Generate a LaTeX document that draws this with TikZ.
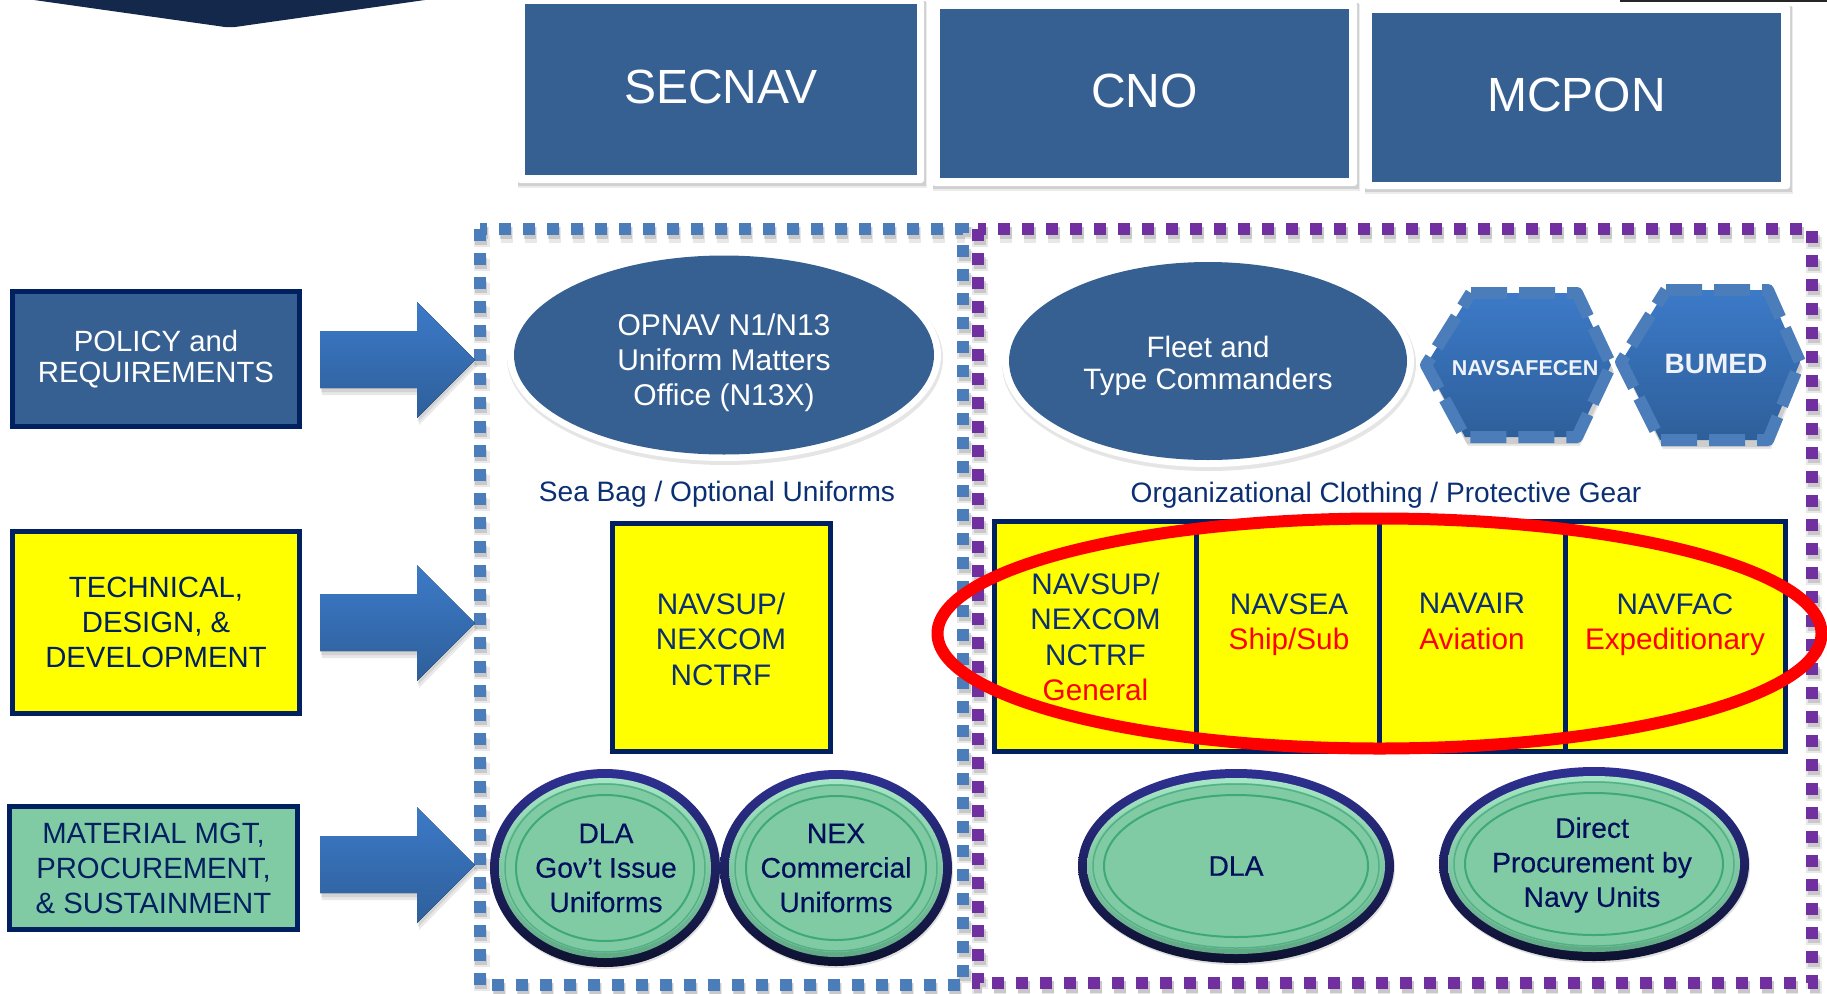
\documentclass[tikz,border=0pt]{standalone}
\usepackage{fontspec}
\setmainfont{Liberation Sans}
\newfontfamily\heavyfont[FakeBold=0.35]{Liberation Sans}
\usetikzlibrary{shapes.geometric}
\definecolor{slate}{HTML}{376092}
\definecolor{navy}{HTML}{002060}
\definecolor{darktop}{HTML}{14284C}
\definecolor{framebl}{HTML}{4A7DBA}
\definecolor{framepu}{HTML}{7030A0}
\definecolor{arrowtop}{HTML}{3C7AC8}
\definecolor{arrowbot}{HTML}{2E5F9A}
\definecolor{mint}{HTML}{80CBA4}
\definecolor{ringg}{HTML}{3FA877}
\definecolor{inktxt}{HTML}{000F5C}
\definecolor{yeltxt}{HTML}{0B2F73}
\definecolor{capcol}{HTML}{0B2F73}
\definecolor{pureyel}{RGB}{255,255,0}
\definecolor{purered}{RGB}{255,0,0}
\definecolor{beveltop}{HTML}{2E3192}
\definecolor{bevelbot}{HTML}{0E1230}
\definecolor{bevellight}{HTML}{A6E6C6}
\definecolor{bevellow}{HTML}{5FA985}
\newcommand{\fsz}[2]{\fontsize{#1}{#2}\selectfont}
\tikzset{
  x=1pt,y=-1pt,
  headbox/.style={rectangle,fill=slate,text=white,inner sep=0pt,font=\fsz{48}{54},align=center},
  sidebox/.style={rectangle,draw=navy,line width=5pt,inner sep=0pt,font=\fsz{29.3}{35},align=center},
  yelbox/.style={rectangle,draw=navy,line width=5pt,fill=pureyel,inner sep=0pt},
  oval/.style={ellipse,fill=slate,text=white,inner sep=0pt,font=\fsz{29.5}{35},align=center},
  yeltext/.style={text=yeltxt,inner sep=0pt,font=\fsz{29.7}{35.5},align=center},
  caption/.style={text=capcol,inner sep=0pt,font=\fsz{28.1}{34}},
  mintext/.style={text=inktxt,inner sep=0pt,font=\heavyfont\fsz{28.3}{34.5},align=center},
  hextext/.style={text=white!92!slate,inner sep=0pt},
  dotted frame/.style={line width=12pt,dash pattern=on 12pt off 12pt},
  hexedge/.style={draw=framebl,line width=12pt,dash pattern=on 36pt off 12pt},
  blockarrow/.style={top color=arrowtop,bottom color=arrowbot,draw=none},
}
\newcommand{\whitebacked}[4]{% x0,y0,x1,y1 white plate
  \fill[gray,opacity=.15] (#1+1,#2+2) rectangle (#3+3,#4+5);
  \fill[gray,opacity=.25] (#1+1,#2+1) rectangle (#3+2,#4+3);
  \fill[white,rounded corners=3pt] (#1,#2) rectangle (#3,#4);
}
\newcommand{\bigarrow}[1]{% centre y
  \fill[gray,opacity=.18] (322,#1-24) -- (419,#1-24) -- (419,#1-53) -- (478,#1+5) -- (419,#1+65) -- (419,#1+35) -- (322,#1+35) -- cycle;
  \fill[gray,opacity=.2] (321,#1-26) -- (418,#1-26) -- (418,#1-55) -- (476,#1+3) -- (418,#1+62) -- (418,#1+32) -- (321,#1+32) -- cycle;
  \fill[blockarrow] (320,#1-29) -- (417,#1-29) -- (417,#1-58) -- (475,#1) -- (417,#1+58) -- (417,#1+28) -- (320,#1+28) -- cycle;
}
\newcommand{\minty}[7]{% name,cx,cy,rx,ry,text,text y
  \fill[gray,opacity=.25] (#2+1,#3+2) ellipse [x radius=#4,y radius=#5];
  \shade[top color=beveltop,bottom color=bevelbot] (#2,#3) ellipse [x radius=#4,y radius=#5];
  \shade[top color=bevellight,bottom color=bevellow] (#2,#3) ellipse [x radius=#4-9,y radius=#5-9];
  \fill[mint] (#2,#3) ellipse [x radius=#4-13,y radius=#5-14];
  \draw[ringg!70!mint,line width=1.5pt] (#2,#3) ellipse [x radius=#4-15,y radius=#5-15];
  \draw[ringg,line width=2pt] (#2,#3) ellipse [x radius=#4-26,y radius=#5-26];
  \node[mintext] (#1) at (#7) {#6};
}
\newcommand{\hexa}[7]{% xl,ym,xa,xb,xr,yt,yb
  \fill[gray,opacity=.18] (#1+3,#2+7) -- (#3+3,#6+7) -- (#4+3,#6+7) -- (#5+3,#2+7) -- (#4+3,#7+9) -- (#3+3,#7+9) -- cycle;
  \fill[gray,opacity=.25] (#1+2,#2+5) -- (#3+2,#6+5) -- (#4+2,#6+5) -- (#5+2,#2+5) -- (#4+2,#7+7) -- (#3+2,#7+7) -- cycle;
  \path[top color=arrowtop,bottom color=arrowbot,hexedge,line join=round]
    (#3+6,#6) -- (#4,#6) -- (#5,#2) -- (#4,#7) -- (#3,#7) -- (#1,#2) -- cycle;
}
\begin{document}
\begin{tikzpicture}
\useasboundingbox (0,0) rectangle (1827,993);
\clip (0,0) rectangle (1827,993);
\fill[white] (0,0) rectangle (1827,993);

% top remnants
\fill[darktop] (34,0) -- (225,27) -- (235,27) -- (425,0) -- cycle;
\fill[black!85] (1620,0) rectangle (1827,2);

% head boxes
\whitebacked{517}{0}{924}{183}
\node[headbox,minimum width=392pt,minimum height=171pt] (secnav) at (721,89.5) {\raisebox{5pt}{SECNAV}};
\whitebacked{932}{2}{1357}{186}
\node[headbox,minimum width=409pt,minimum height=169pt] (cno) at (1144.5,93.5) {\raisebox{5pt}{CNO}};
\whitebacked{1364}{5}{1790}{189}
\node[headbox,minimum width=409pt,minimum height=169pt] (mcpon) at (1576.5,97) {\raisebox{5pt}{MCPON}};

% frames
\draw[gray,opacity=.18,line width=16pt,dash pattern=on 12pt off 12pt] (481.5,235) rectangle (965,991);
\draw[gray,opacity=.18,line width=16pt,dash pattern=on 12pt off 12pt] (980,235) rectangle (1814,989);
\draw[gray,opacity=.3,dotted frame] (481,233) rectangle (964.5,989);
\draw[gray,opacity=.3,dotted frame] (979.5,233) rectangle (1813.5,987);
\draw[framebl,dotted frame] (479.5,229) rectangle (963,985);
\draw[framepu,dotted frame] (978,229) rectangle (1812,983);

% left column
\node[sidebox,fill=slate,text=white,font=\fsz{29.3}{30.5},minimum width=287pt,minimum height=135pt] (policy) at (156,359) {POLICY and\\REQUIREMENTS};
\node[sidebox,fill=pureyel,text=navy,minimum width=287pt,minimum height=182pt] (tech) at (156,622.5) {TECHNICAL,\\DESIGN, \&\\DEVELOPMENT};
\node[sidebox,fill=mint,text=navy,minimum width=288pt,minimum height=123pt] (mat) at (153.5,868) {MATERIAL MGT,\\PROCUREMENT,\\\& SUSTAINMENT};

% block arrows
\bigarrow{360}
\bigarrow{623}
\bigarrow{865}

% blue ovals
\fill[gray,opacity=.2] (725,358) ellipse [x radius=218,y radius=107];
\fill[white] (724,355) ellipse [x radius=217,y radius=106];
\node[oval,minimum width=420pt,minimum height=199pt] (opnav) at (724,355) {};
\node[text=white,inner sep=0pt,font=\fsz{30}{35},align=center] (opnavtxt) at (724,363) {OPNAV N1/N13\\Uniform Matters\\Office (N13X)};
\fill[gray,opacity=.2] (1209,364) ellipse [x radius=207,y radius=107];
\fill[white] (1208,361) ellipse [x radius=206,y radius=106];
\node[oval,minimum width=398pt,minimum height=198pt] (fleet) at (1208,361) {};
\node[text=white,inner sep=0pt,font=\fsz{29.5}{32.5},align=center] (fleettxt) at (1208,366) {Fleet and\\Type Commanders};

% hexagons
\hexa{1426}{365}{1465}{1577}{1611}{293}{437}
\node[hextext,font=\bfseries\fsz{21.5}{24}] (navsafecen) at (1525,368) {NAVSAFECEN};
\hexa{1621}{362}{1660}{1768}{1800}{290}{440}
\node[hextext,font=\bfseries\fsz{28}{32}] (bumed) at (1716,364) {BUMED};

% captions
\node[caption] (seabag) at (717,494) {Sea Bag / Optional Uniforms};
\node[caption] (orgcloth) at (1386,495) {Organizational Clothing / Protective Gear};

% yellow boxes
\node[yelbox,minimum width=218pt,minimum height=228pt] (supleft) at (721.5,637.5) {};
\node[yelbox,minimum width=791pt,minimum height=230pt] (yelright) at (1390,636.5) {};
\draw[navy,line width=5pt] (1196,520) -- (1196,754);
\draw[navy,line width=5pt] (1379,520) -- (1379,754);
\draw[navy,line width=5pt] (1565,520) -- (1565,754);

% red ellipse
\draw[purered,line width=12pt] (1379.5,633.5) ellipse [x radius=442,y radius=115];

% yellow box text
\node[yeltext] (suptxt) at (721,639) {NAVSUP/\\NEXCOM\\NCTRF};
\node[yeltext] (supgen) at (1095.5,636.8) {NAVSUP/\\NEXCOM\\NCTRF\\\textcolor{purered}{General}};
\node[yeltext] (sea) at (1289,624.5) {NAVSEA\\\textcolor{purered}{Ship/Sub}};
\node[yeltext] (air) at (1472,621.3) {NAVAIR\\\textcolor{purered}{Aviation}};
\node[yeltext] (fac) at (1675,624.5) {NAVFAC\\\textcolor{purered}{Expeditionary}};

% bevelled green ovals
\minty{dlaA}{605}{868}{115}{99}{DLA\\Gov’t Issue\\Uniforms}{606,868}
\minty{nex}{836}{868}{116}{98}{NEX\\Commercial\\Uniforms}{836,868}
\minty{dlaB}{1236}{866}{158}{97}{DLA}{1236,866}
\minty{direct}{1594}{864}{155}{97}{Direct\\Procurement by\\Navy Units}{1592,865}
\end{tikzpicture}
\end{document}
